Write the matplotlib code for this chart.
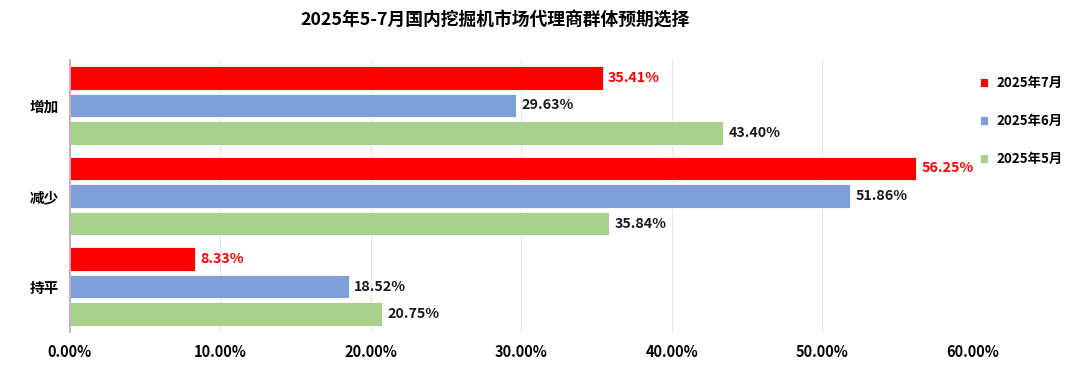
import numpy as np
import matplotlib.pyplot as plt

plt.rcParams['font.family'] = ['Noto Sans CJK SC', 'DejaVu Sans']

categories = ["增加", "减少", "持平"]
series = ["2025年7月", "2025年6月", "2025年5月"]
jul = [35.41, 56.25, 8.33]
jun = [29.63, 51.86, 18.52]
may = [43.40, 35.84, 20.75]
colors = ["#ff0000", "#7f9fda", "#a9d18e"]
label_colors = ["#ff0000", "#1a1a1a", "#1a1a1a"]

fig = plt.figure(figsize=(10.8, 3.68), dpi=100)
ax = fig.add_axes([0.0648, 0.098, 0.836, 0.739])

y = np.arange(len(categories))
step = 0.304
h = 0.26
for i, (name, vals) in enumerate(zip(series, [jul, jun, may])):
    pos = y + (i - 1) * step
    ax.barh(pos, vals, height=h, color=colors[i], label=name,
            edgecolor="white", linewidth=0.6, zorder=3)
    for p, v in zip(pos, vals):
        ax.text(v + 0.35, p, f"{v:.2f}%", va="center", ha="left",
                fontsize=10.3, fontweight="bold", color=label_colors[i])

ax.set_xlim(0, 60)
ax.set_ylim(2.5, -0.5)
ax.set_xticks(np.arange(0, 61, 10))
ax.set_xticklabels([f"{t:.2f}%" for t in np.arange(0, 61, 10)],
                   fontsize=10.5, fontweight="bold")
ax.set_yticks(y)
ax.set_yticklabels(categories, fontsize=10.5, fontweight="bold")
ax.tick_params(length=0, pad=8)
ax.tick_params(axis="x", pad=9)
ax.grid(axis="x", color="#e6e6e6", linewidth=0.8, zorder=0)
for s in ["top", "right", "bottom"]:
    ax.spines[s].set_visible(False)
ax.spines["left"].set_color("#c9a0b0")
ax.spines["left"].set_linewidth(1.2)
ax.spines["left"].set_zorder(4)

fig.suptitle("2025年5-7月国内挖掘机市场代理商群体预期选择", x=0.458, y=0.968,
             fontsize=12.8, fontweight="bold")

leg = ax.legend(loc="upper left", bbox_to_anchor=(0.998, 0.975), frameon=False,
                fontsize=9.6, handlelength=0.6, handleheight=0.6,
                labelspacing=1.8, handletextpad=0.6, borderaxespad=0.3)
for t in leg.get_texts():
    t.set_fontweight("bold")

fig.savefig("out.png", dpi=100)
